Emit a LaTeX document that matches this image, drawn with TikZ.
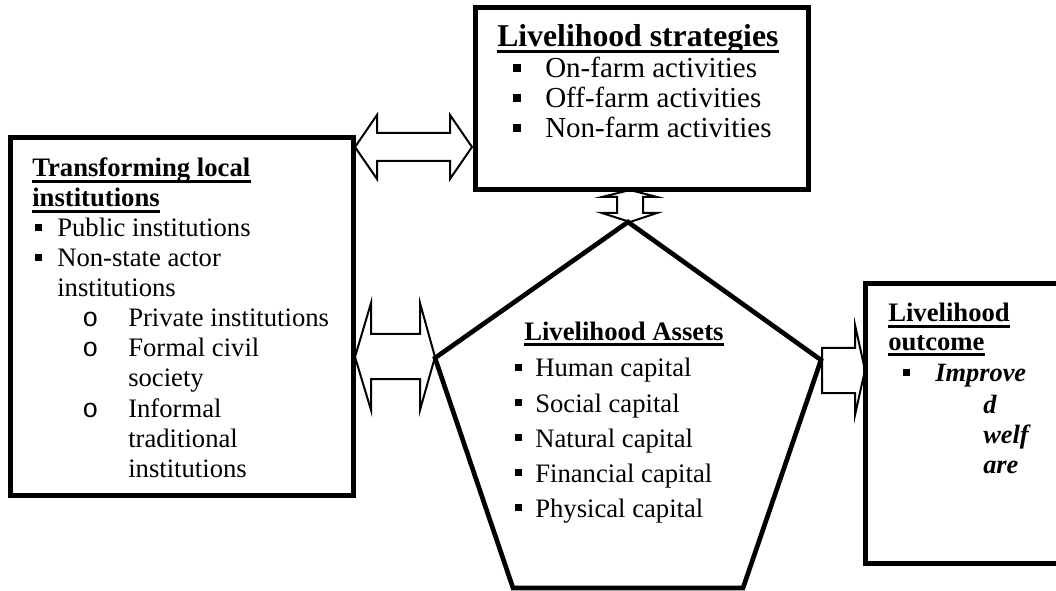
\documentclass[tikz,border=0pt]{standalone}
\usepackage{fontspec}
\setmainfont{Liberation Serif}
\setmonofont{Liberation Mono}
\usetikzlibrary{fit}
\newcommand\sqb{\rule[0.22em]{0.26em}{0.26em}}
\newcommand\ulnode[1]{\draw[line width=1.8pt] ([yshift=-3.4pt]#1.base west) -- ([yshift=-3.4pt]#1.base east);}
\begin{document}
\begin{tikzpicture}[x=0.75pt,y=-0.75pt,
  box/.style={draw, line width=3.75pt, inner sep=0pt},
  pent/.style={draw, line width=3.5pt, line join=miter},
  barrow/.style={draw, line width=1.5pt, fill=white, line join=miter},
  txt/.style={anchor=base west, inner sep=0pt},
  fS/.style={font=\fontsize{21.75}{26}\selectfont},
  fSb/.style={font=\fontsize{23.8}{28}\selectfont\bfseries},
  fT/.style={font=\fontsize{20}{24}\selectfont},
  fTb/.style={font=\fontsize{20}{24}\selectfont\bfseries},
  fO/.style={font=\fontsize{19.8}{24}\selectfont\bfseries\itshape},
  fSub/.style={font=\fontsize{20}{24}\selectfont\ttfamily}
]
\useasboundingbox (0,0) rectangle (1056,591);
\clip (0,0) rectangle (1056,591);

% block arrows
\draw[barrow] (355,147) -- (377,115) -- (377,133) -- (450,133) -- (450,115) -- (472,147)
  -- (450,179) -- (450,161) -- (377,161) -- (377,179) -- cycle;
\draw[barrow] (355,357) -- (371,303) -- (371,334) -- (420,334) -- (420,303) -- (435,357)
  -- (420,410) -- (420,379) -- (371,379) -- (371,410) -- cycle;
\draw[barrow] (630,190) -- (657,197) -- (643,197) -- (643,213) -- (657,213) -- (630,222)
  -- (602,213) -- (617,213) -- (617,197) -- (602,197) -- cycle;
\draw[barrow] (822,348) -- (855,348) -- (855,325) -- (865,370) -- (855,415) -- (855,393)
  -- (822,393) -- cycle;

% pentagon
\coordinate (pA) at (628,222);
\coordinate (pR) at (821,360);
\coordinate (pBR) at (743,588);
\coordinate (pBL) at (513,588);
\coordinate (pL) at (435,358);
\draw[pent] (pA) -- (pR) -- (pBR) -- (pBL) -- (pL) -- cycle;

% boxes
\node[box, fit={(475,8) (808,190)}] (strat) {};
\node[box, fit={(10.5,138) (353,495)}] (inst) {};
\node[box, fit={(865,284) (1070,563)}] (out) {};

% strategies text
\node[txt, fSb] (st) at (497,47) {Livelihood strategies};
\ulnode{st}
\node[txt, fS] (sb1) at (513,78) {\sqb};
\node[txt, fS] (s1) at (545,78) {On-farm activities};
\node[txt, fS] (sb2) at (513,108) {\sqb};
\node[txt, fS] (s2) at (545,108) {Off-farm activities};
\node[txt, fS] (sb3) at (513,138) {\sqb};
\node[txt, fS] (s3) at (545,138) {Non-farm activities};

% institutions text
\node[txt, fTb] (it1) at (32,177) {Transforming local};
\ulnode{it1}
\node[txt, fTb] (it2) at (32,207) {institutions};
\ulnode{it2}
\node[txt, fT] (ib1) at (35,237) {\sqb};
\node[txt, fT] (i1) at (57,237) {Public institutions};
\node[txt, fT] (ib2) at (35,267) {\sqb};
\node[txt, fT] (i2) at (57,267) {Non-state actor};
\node[txt, fT] (i2b) at (57,297) {institutions};
\node[txt, fSub] (io1) at (82,327) {o};
\node[txt, fT] (i3) at (128,327) {Private institutions};
\node[txt, fSub] (io2) at (82,357) {o};
\node[txt, fT] (i4) at (128,357) {Formal civil};
\node[txt, fT] (i4b) at (128,387) {society};
\node[txt, fSub] (io3) at (82,417) {o};
\node[txt, fT] (i5) at (128,417) {Informal};
\node[txt, fT] (i5b) at (128,447) {traditional};
\node[txt, fT] (i5c) at (128,477) {institutions};

% assets text
\node[txt, fTb] (at) at (524,340) {Livelihood Assets};
\ulnode{at}
\node[txt, fT] (ab1) at (515,377) {\sqb};
\node[txt, fT] (a1) at (535,377) {Human capital};
\node[txt, fT] (ab2) at (515,412) {\sqb};
\node[txt, fT] (a2) at (535,412) {Social capital};
\node[txt, fT] (ab3) at (515,447) {\sqb};
\node[txt, fT] (a3) at (535,447) {Natural capital};
\node[txt, fT] (ab4) at (515,482) {\sqb};
\node[txt, fT] (a4) at (535,482) {Financial capital};
\node[txt, fT] (ab5) at (515,517) {\sqb};
\node[txt, fT] (a5) at (535,517) {Physical capital};

% outcome text
\node[txt, fTb] (ot1) at (888,322) {Livelihood};
\ulnode{ot1}
\node[txt, fTb] (ot2) at (888,350) {outcome};
\ulnode{ot2}
\node[txt, fT] (ob1) at (903,382) {\sqb};
\node[txt, fO] (o1) at (935,382) {Improve};
\node[txt, fO] (o2) at (983,413) {d};
\node[txt, fO] (o3) at (983,443) {welf};
\node[txt, fO] (o4) at (983,473) {are};
\end{tikzpicture}
\end{document}
